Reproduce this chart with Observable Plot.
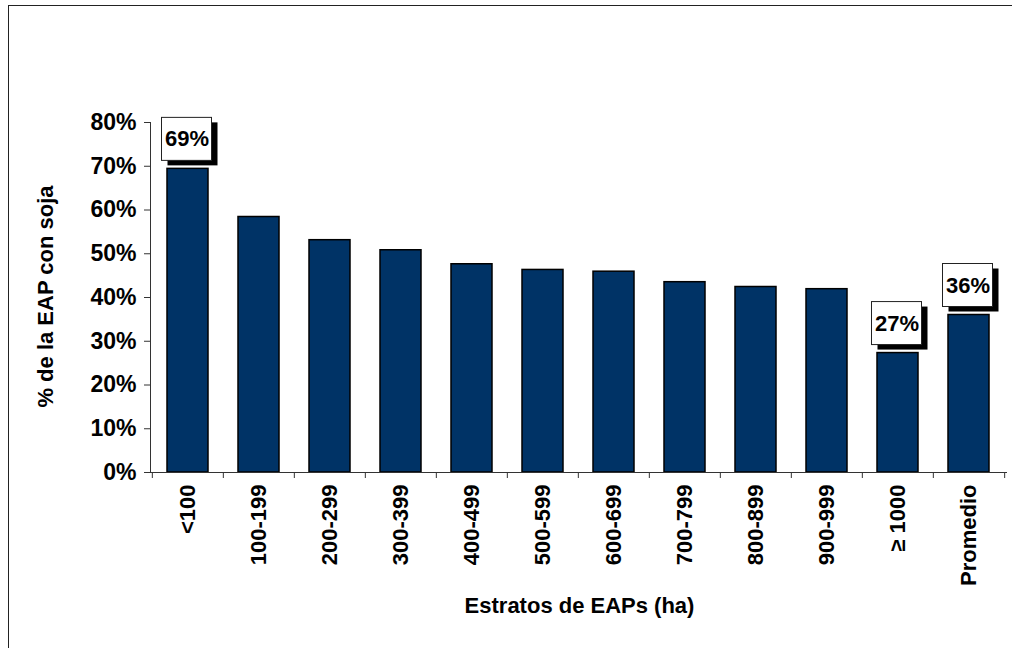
<!DOCTYPE html>
<html><head><meta charset="utf-8">
<script src="https://cdn.jsdelivr.net/npm/d3@7"></script>
<script src="https://cdn.jsdelivr.net/npm/@observablehq/plot@0.6"></script>
<style>
html,body{margin:0;padding:0;background:#fff;}
#wrap{position:relative;width:1012px;height:648px;overflow:hidden;}
#border{position:absolute;left:8px;top:5px;width:1100px;height:700px;border-left:1.5px solid #222;border-top:1.5px solid #222;pointer-events:none;box-sizing:border-box;}
svg text{font-family:"Liberation Sans",Arial,sans-serif;font-weight:bold;}
</style></head><body><div id="wrap"><div id="border"></div></div>
<script>
const categories = ["<100","100-199","200-299","300-399","400-499","500-599","600-699","700-799","800-899","900-999","≥ 1000","Promedio"];
const values = [69.4, 58.4, 53.1, 50.8, 47.6, 46.3, 45.9, 43.5, 42.4, 41.9, 27.3, 36.0];
const yTicks = [0, 10, 20, 30, 40, 50, 60, 70, 80];
const labeled = ["<100", "≥ 1000", "Promedio"];
const xTitle = "Estratos de EAPs (ha)";
const yTitle = "% de la EAP con soja";

const W = 1012, H = 648, mL = 150, mR = 6, mT = 122, mB = 176;
const step = (W - mL - mR) / categories.length;
const data = categories.map((c, i) => ({cat: c, v: values[i]}));
const lab = data.filter(d => labeled.includes(d.cat));
const font = '"Liberation Sans", Arial, sans-serif';

const chart = Plot.plot({
  width: W, height: H,
  marginLeft: mL, marginRight: mR, marginTop: mT, marginBottom: mB,
  style: {fontFamily: font, fontSize: "22px", color: "#000", background: "transparent", overflow: "visible"},
  x: {domain: categories, type: "band", paddingInner: 0.425, paddingOuter: 0.2125, align: 0.5},
  y: {domain: [0, 80]},
  marks: [
    Plot.barY(data, {x: "cat", y: "v", fill: "#003366", stroke: "#000", strokeWidth: 1.5}),
    Plot.frame({anchor: "left", stroke: "#333"}),
    Plot.frame({anchor: "bottom", stroke: "#333"}),
    Plot.axisY({ticks: yTicks, tickFormat: d => d + "%", tickSize: 6, tickPadding: 8, label: null, fontSize: 23, fontWeight: "bold", stroke: "#333"}),
    Plot.axisX({tickSize: 0, tickPadding: 12, tickRotate: -90, label: null, fontSize: 22, fontWeight: "bold"}),
    Plot.ruleX(categories, {x: d => d, dx: -step / 2, y1: 0, y2: 0, insetBottom: -6, stroke: "#333"}),
    Plot.ruleX(categories.slice(-1), {x: d => d, dx: step / 2, y1: 0, y2: 0, insetBottom: -6, stroke: "#333"}),
    Plot.barY(lab, {x: "cat", y1: "v", y2: "v", insetTop: -51, insetBottom: 8, insetLeft: -5.5, insetRight: -3.5, fill: "#000", dx: 6, dy: 5}),
    Plot.barY(lab, {x: "cat", y1: "v", y2: "v", insetTop: -51, insetBottom: 8, insetLeft: -5.5, insetRight: -3.5, fill: "#fff", stroke: "#222", strokeWidth: 1}),
    Plot.text(lab, {x: "cat", y: "v", text: d => Math.round(d.v) + "%", dy: -29.5, dx: -1, fontSize: 22, fontWeight: "bold"}),
    Plot.text([yTitle], {frameAnchor: "left", text: d => d, rotate: -90, textAnchor: "middle", dx: -105, dy: -1, fontSize: 22, fontWeight: "bold"}),
    Plot.text([xTitle], {frameAnchor: "bottom", text: d => d, dx: 1, dy: 140, fontSize: 22, fontWeight: "bold"})
  ]
});
document.getElementById("wrap").insertBefore(chart, document.getElementById("border"));
</script>
</body></html>
